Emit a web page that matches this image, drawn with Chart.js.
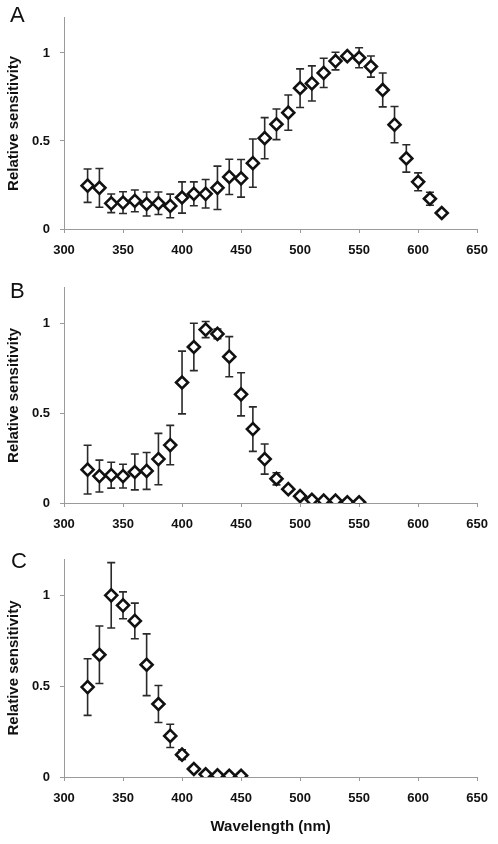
<!DOCTYPE html>
<html>
<head>
<meta charset="utf-8">
<script src="https://cdn.jsdelivr.net/npm/chart.js@4.4.1/dist/chart.umd.min.js"></script>
<style>
  body { margin: 0; background: #fff; width: 498px; height: 844px; position: relative; overflow: hidden; }
  .panel { position: absolute; left: 0; width: 498px; }
  .letter { position: absolute; font-family: "Liberation Sans", Arial, sans-serif; font-size: 22px; line-height: 22px; color: #111; }
</style>
</head>
<body>
<div class="panel" style="top:0;height:270px"><canvas id="chartA" width="498" height="270"></canvas></div>
<div class="panel" style="top:270px;height:270px"><canvas id="chartB" width="498" height="270"></canvas></div>
<div class="panel" style="top:540px;height:304px"><canvas id="chartC" width="498" height="304"></canvas></div>
<div class="letter" style="left:10px;top:4px">A</div>
<div class="letter" style="left:10px;top:280px">B</div>
<div class="letter" style="left:11px;top:550px">C</div>
<script>
// wavelengths (nm), relative sensitivity, +/- error
var wlA = [320, 330, 340, 350, 360, 370, 380, 390, 400, 410, 420, 430, 440, 450, 460, 470, 480, 490, 500, 510, 520, 530, 540, 550, 560, 570, 580, 590, 600, 610, 620];
var sensA = [0.246, 0.234, 0.146, 0.150, 0.160, 0.142, 0.146, 0.131, 0.179, 0.200, 0.200, 0.234, 0.296, 0.288, 0.374, 0.516, 0.595, 0.661, 0.800, 0.827, 0.887, 0.954, 0.982, 0.973, 0.923, 0.790, 0.593, 0.401, 0.268, 0.172, 0.091];
var errA = [0.095, 0.110, 0.053, 0.062, 0.062, 0.068, 0.064, 0.067, 0.089, 0.068, 0.081, 0.123, 0.100, 0.107, 0.137, 0.117, 0.087, 0.100, 0.110, 0.100, 0.083, 0.050, 0.010, 0.057, 0.060, 0.096, 0.103, 0.078, 0.051, 0.037, 0.010];

var wlB = [320, 330, 340, 350, 360, 370, 380, 390, 400, 410, 420, 430, 440, 450, 460, 470, 480, 490, 500, 510, 520, 530, 540, 550];
var sensB = [0.186, 0.150, 0.155, 0.150, 0.173, 0.179, 0.245, 0.323, 0.672, 0.870, 0.967, 0.943, 0.816, 0.606, 0.412, 0.245, 0.135, 0.077, 0.038, 0.018, 0.013, 0.013, 0.004, 0.004];
var errB = [0.136, 0.089, 0.072, 0.066, 0.100, 0.103, 0.143, 0.110, 0.175, 0.132, 0.045, 0.027, 0.112, 0.120, 0.124, 0.084, 0.034, 0.015, 0.010, 0.005, 0.005, 0.005, 0.003, 0.003];

var wlC = [320, 330, 340, 350, 360, 370, 380, 390, 400, 410, 420, 430, 440, 450];
var sensC = [0.495, 0.673, 1.000, 0.945, 0.859, 0.618, 0.402, 0.226, 0.123, 0.044, 0.015, 0.009, 0.007, 0.007];
var errC = [0.156, 0.158, 0.180, 0.074, 0.098, 0.170, 0.102, 0.064, 0.027, 0.010, 0.005, 0.003, 0.003, 0.003];

var xTicks = [300, 350, 400, 450, 500, 550, 600, 650];
var yTicks = [0, 0.5, 1];

var axisGray = "#9a9a9a";
var fontFam = "'Liberation Sans', Arial, sans-serif";

// draws the error bars under the markers
var errorBars = {
    id: 'errorBars',
    beforeDatasetsDraw: function (chart) {
        var ctx = chart.ctx;
        var xs = chart.scales.x, ys = chart.scales.y;
        chart.data.datasets.forEach(function (ds) {
            ctx.save();
            ctx.strokeStyle = "#2a2a2a";
            ctx.lineWidth = 1.6;
            ds.data.forEach(function (p, i) {
                var e = ds.errors[i];
                var x = xs.getPixelForValue(p.x);
                var y1 = ys.getPixelForValue(p.y + e);
                var y2 = ys.getPixelForValue(p.y - e);
                ctx.beginPath();
                ctx.moveTo(x, y1); ctx.lineTo(x, y2);
                ctx.moveTo(x - 4, y1); ctx.lineTo(x + 4, y1);
                ctx.moveTo(x - 4, y2); ctx.lineTo(x + 4, y2);
                ctx.stroke();
            });
            ctx.restore();
        });
    }
};

function makeChart(id, wl, sens, err, padTop, xHeight, showXTitle) {
    var pts = wl.map(function (w, i) { return { x: w, y: sens[i] }; });
    return new Chart(id, {
        type: "scatter",
        data: {
            datasets: [{
                data: pts,
                errors: err,
                pointStyle: "rectRot",
                pointRadius: 6,
                pointHoverRadius: 6,
                pointBorderWidth: 2.6,
                pointBorderColor: "#111",
                pointBackgroundColor: "#fff"
            }]
        },
        options: {
            responsive: false,
            animation: false,
            layout: { padding: { top: padTop, right: 16, left: 0, bottom: 0 } },
            plugins: { legend: { display: false }, tooltip: { enabled: false } },
            scales: {
                x: {
                    type: "linear",
                    min: 300,
                    max: 650,
                    afterBuildTicks: function (s) { s.ticks = xTicks.map(function (v) { return { value: v }; }); },
                    afterFit: function (s) { s.height = xHeight; },
                    grid: { drawOnChartArea: false, tickLength: 4, color: axisGray },
                    border: { color: axisGray },
                    ticks: { color: "#111", padding: 10, maxRotation: 0, font: { family: fontFam, size: 13, weight: "bold" } },
                    title: {
                        display: showXTitle,
                        text: "Wavelength (nm)",
                        color: "#111",
                        padding: { top: 0, bottom: 8 },
                        font: { family: fontFam, size: 15, weight: "bold" }
                    }
                },
                y: {
                    min: 0,
                    max: 1.2,
                    afterBuildTicks: function (s) { s.ticks = yTicks.map(function (v) { return { value: v }; }); },
                    afterFit: function (s) { s.width = 64; },
                    grid: { drawOnChartArea: false, tickLength: 4, color: axisGray },
                    border: { color: axisGray },
                    ticks: {
                        color: "#111",
                        padding: 10,
                        font: { family: fontFam, size: 13, weight: "bold" },
                        callback: function (v) { return String(v); }
                    },
                    title: {
                        display: true,
                        text: "Relative sensitivity",
                        color: "#111",
                        padding: { top: 5, bottom: 0 },
                        font: { family: fontFam, size: 15, weight: "bold" }
                    }
                }
            }
        },
        plugins: [errorBars]
    });
}

makeChart("chartA", wlA, sensA, errA, 10, 41, false);
makeChart("chartB", wlB, sensB, errB, 15, 37, false);
makeChart("chartC", wlC, sensC, errC, 19, 67, true);
</script>
</body>
</html>
